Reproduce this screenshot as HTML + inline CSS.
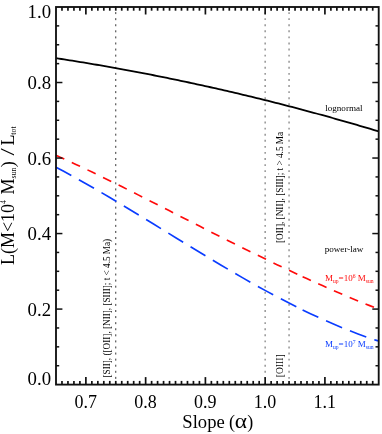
<!DOCTYPE html>
<html><head><meta charset="utf-8"><style>
html,body{margin:0;padding:0;background:#fff;}
svg{display:block;will-change:transform;font-family:"Liberation Serif",serif;}
</style></head><body>
<svg width="382" height="434" viewBox="0 0 382 434">
<rect width="382" height="434" fill="#fff"/>
<line x1="115.76" y1="6" x2="115.76" y2="384.6" stroke="#2a2a2a" stroke-width="0.95" stroke-dasharray="2,4.08"/>
<g stroke="#8e8e8e" stroke-width="1.4" stroke-dasharray="1.9,4.18" fill="none">
<line x1="265.16" y1="6.05" x2="265.16" y2="384.6"/>
<line x1="289.06" y1="6.05" x2="289.06" y2="384.6"/>
</g>
<path d="M56.00,58.16 L58.71,58.58 L61.42,58.99 L64.14,59.42 L66.85,59.84 L69.56,60.27 L72.27,60.70 L74.98,61.14 L77.69,61.58 L80.41,62.02 L83.12,62.47 L85.83,62.92 L88.54,63.37 L91.25,63.83 L93.96,64.29 L96.68,64.75 L99.39,65.22 L102.10,65.69 L104.81,66.16 L107.52,66.64 L110.24,67.11 L112.95,67.60 L115.66,68.08 L118.37,68.57 L121.08,69.07 L123.79,69.56 L126.51,70.06 L129.22,70.57 L131.93,71.08 L134.64,71.59 L137.35,72.10 L140.06,72.62 L142.78,73.14 L145.49,73.66 L148.20,74.19 L150.91,74.72 L153.62,75.25 L156.34,75.79 L159.05,76.33 L161.76,76.87 L164.47,77.42 L167.18,77.97 L169.89,78.53 L172.61,79.08 L175.32,79.65 L178.03,80.21 L180.74,80.78 L183.45,81.35 L186.16,81.92 L188.88,82.50 L191.59,83.08 L194.30,83.67 L197.01,84.26 L199.72,84.85 L202.44,85.44 L205.15,86.04 L207.86,86.64 L210.57,87.25 L213.28,87.86 L215.99,88.47 L218.71,89.08 L221.42,89.70 L224.13,90.33 L226.84,90.95 L229.55,91.58 L232.26,92.21 L234.98,92.85 L237.69,93.49 L240.40,94.13 L243.11,94.78 L245.82,95.42 L248.54,96.08 L251.25,96.73 L253.96,97.39 L256.67,98.06 L259.38,98.72 L262.09,99.39 L264.81,100.07 L267.52,100.74 L270.23,101.42 L272.94,102.11 L275.65,102.79 L278.36,103.48 L281.08,104.18 L283.79,104.87 L286.50,105.57 L289.21,106.28 L291.92,106.99 L294.64,107.70 L297.35,108.41 L300.06,109.13 L302.77,109.85 L305.48,110.57 L308.19,111.30 L310.91,112.03 L313.62,112.77 L316.33,113.50 L319.04,114.25 L321.75,114.99 L324.46,115.74 L327.18,116.49 L329.89,117.24 L332.60,118.00 L335.31,118.77 L338.02,119.53 L340.74,120.30 L343.45,121.07 L346.16,121.85 L348.87,122.63 L351.58,123.41 L354.29,124.19 L357.01,124.98 L359.72,125.78 L362.43,126.57 L365.14,127.37 L367.85,128.17 L370.56,128.98 L373.28,129.79 L375.99,130.60 L378.70,131.42" stroke="#000" stroke-width="1.8" fill="none"/>
<path d="M56.00,155.31 L60.15,157.18 L64.29,159.06 M71.77,162.50 L75.89,164.42 L80.01,166.35 M87.45,169.88 L91.55,171.84 L95.65,173.81 M103.06,177.41 L107.14,179.41 L111.23,181.42 M118.60,185.07 L122.68,187.10 L126.75,189.13 M134.10,192.82 L138.16,194.87 L142.22,196.92 M149.56,200.65 L153.62,202.71 L157.67,204.77 M165.01,208.51 L169.06,210.58 L173.11,212.65 M180.44,216.40 L184.49,218.47 L188.54,220.54 M195.87,224.28 L199.93,226.35 L203.98,228.41 M211.32,232.14 L215.38,234.19 L219.44,236.25 M226.79,239.95 L230.85,241.99 L234.92,244.03 M242.29,247.70 L246.37,249.72 L250.44,251.73 M257.83,255.36 L261.92,257.36 L266.01,259.35 M273.43,262.92 L277.53,264.89 L281.64,266.85 M289.08,270.36 L293.20,272.29 L297.32,274.21 M302.60,276.65 L306.74,278.55 L310.88,280.44 M318.21,283.75 L322.37,285.60 L326.53,287.44 M333.91,290.67 L338.08,292.47 L342.26,294.27 M349.68,297.41 L353.87,299.16 L358.08,300.90 M365.53,303.94 L369.75,305.64 L373.98,307.32" stroke="#ff0a0a" stroke-width="1.65" fill="none"/>
<path d="M56.00,167.18 L63.67,171.28 L71.31,175.45 M78.88,179.66 L86.45,183.94 L93.99,188.28 M101.48,192.64 L108.97,197.05 L116.45,201.50 M123.87,205.96 L131.32,210.46 L138.75,214.99 M146.14,219.50 L153.55,224.05 L160.97,228.60 M168.34,233.14 L175.75,237.70 L183.17,242.25 M190.56,246.77 L197.99,251.29 L205.43,255.80 M212.85,260.27 L220.32,264.72 L227.81,269.15 M235.28,273.53 L242.81,277.88 L250.37,282.19 M257.92,286.43 L265.54,290.63 L273.19,294.78 M280.84,298.84 L288.56,302.85 L296.32,306.78 M302.60,309.89 L310.44,313.67 L318.32,317.36 M326.06,320.86 L334.04,324.33 L342.07,327.69 M349.96,330.85 L358.08,333.95 L366.26,336.91 M374.31,339.66 L376.50,340.38 L378.70,341.08" stroke="#0a3cff" stroke-width="1.65" fill="none"/>
<rect x="56.0" y="7.0" width="322.7" height="377.6" fill="none" stroke="#111" stroke-width="1.85"/>
<g stroke="#111" stroke-width="1.5">
<line stroke-width="1.7" x1="61.98" y1="384.6" x2="61.98" y2="380.90000000000003"/><line stroke-width="1.7" x1="61.98" y1="7.0" x2="61.98" y2="10.7"/><line stroke-width="1.7" x1="67.95" y1="384.6" x2="67.95" y2="380.90000000000003"/><line stroke-width="1.7" x1="67.95" y1="7.0" x2="67.95" y2="10.7"/><line stroke-width="1.7" x1="73.93" y1="384.6" x2="73.93" y2="380.90000000000003"/><line stroke-width="1.7" x1="73.93" y1="7.0" x2="73.93" y2="10.7"/><line stroke-width="1.7" x1="79.90" y1="384.6" x2="79.90" y2="380.90000000000003"/><line stroke-width="1.7" x1="79.90" y1="7.0" x2="79.90" y2="10.7"/><line stroke-width="1.7" x1="85.88" y1="384.6" x2="85.88" y2="377.1"/><line stroke-width="1.7" x1="85.88" y1="7.0" x2="85.88" y2="14.5"/><line stroke-width="1.7" x1="91.86" y1="384.6" x2="91.86" y2="380.90000000000003"/><line stroke-width="1.7" x1="91.86" y1="7.0" x2="91.86" y2="10.7"/><line stroke-width="1.7" x1="97.83" y1="384.6" x2="97.83" y2="380.90000000000003"/><line stroke-width="1.7" x1="97.83" y1="7.0" x2="97.83" y2="10.7"/><line stroke-width="1.7" x1="103.81" y1="384.6" x2="103.81" y2="380.90000000000003"/><line stroke-width="1.7" x1="103.81" y1="7.0" x2="103.81" y2="10.7"/><line stroke-width="1.7" x1="109.78" y1="384.6" x2="109.78" y2="380.90000000000003"/><line stroke-width="1.7" x1="109.78" y1="7.0" x2="109.78" y2="10.7"/><line stroke-width="1.7" x1="115.76" y1="384.6" x2="115.76" y2="380.90000000000003"/><line stroke-width="1.7" x1="115.76" y1="7.0" x2="115.76" y2="10.7"/><line stroke-width="1.7" x1="121.74" y1="384.6" x2="121.74" y2="380.90000000000003"/><line stroke-width="1.7" x1="121.74" y1="7.0" x2="121.74" y2="10.7"/><line stroke-width="1.7" x1="127.71" y1="384.6" x2="127.71" y2="380.90000000000003"/><line stroke-width="1.7" x1="127.71" y1="7.0" x2="127.71" y2="10.7"/><line stroke-width="1.7" x1="133.69" y1="384.6" x2="133.69" y2="380.90000000000003"/><line stroke-width="1.7" x1="133.69" y1="7.0" x2="133.69" y2="10.7"/><line stroke-width="1.7" x1="139.66" y1="384.6" x2="139.66" y2="380.90000000000003"/><line stroke-width="1.7" x1="139.66" y1="7.0" x2="139.66" y2="10.7"/><line stroke-width="1.7" x1="145.64" y1="384.6" x2="145.64" y2="377.1"/><line stroke-width="1.7" x1="145.64" y1="7.0" x2="145.64" y2="14.5"/><line stroke-width="1.7" x1="151.61" y1="384.6" x2="151.61" y2="380.90000000000003"/><line stroke-width="1.7" x1="151.61" y1="7.0" x2="151.61" y2="10.7"/><line stroke-width="1.7" x1="157.59" y1="384.6" x2="157.59" y2="380.90000000000003"/><line stroke-width="1.7" x1="157.59" y1="7.0" x2="157.59" y2="10.7"/><line stroke-width="1.7" x1="163.57" y1="384.6" x2="163.57" y2="380.90000000000003"/><line stroke-width="1.7" x1="163.57" y1="7.0" x2="163.57" y2="10.7"/><line stroke-width="1.7" x1="169.54" y1="384.6" x2="169.54" y2="380.90000000000003"/><line stroke-width="1.7" x1="169.54" y1="7.0" x2="169.54" y2="10.7"/><line stroke-width="1.7" x1="175.52" y1="384.6" x2="175.52" y2="380.90000000000003"/><line stroke-width="1.7" x1="175.52" y1="7.0" x2="175.52" y2="10.7"/><line stroke-width="1.7" x1="181.49" y1="384.6" x2="181.49" y2="380.90000000000003"/><line stroke-width="1.7" x1="181.49" y1="7.0" x2="181.49" y2="10.7"/><line stroke-width="1.7" x1="187.47" y1="384.6" x2="187.47" y2="380.90000000000003"/><line stroke-width="1.7" x1="187.47" y1="7.0" x2="187.47" y2="10.7"/><line stroke-width="1.7" x1="193.45" y1="384.6" x2="193.45" y2="380.90000000000003"/><line stroke-width="1.7" x1="193.45" y1="7.0" x2="193.45" y2="10.7"/><line stroke-width="1.7" x1="199.42" y1="384.6" x2="199.42" y2="380.90000000000003"/><line stroke-width="1.7" x1="199.42" y1="7.0" x2="199.42" y2="10.7"/><line stroke-width="1.7" x1="205.40" y1="384.6" x2="205.40" y2="377.1"/><line stroke-width="1.7" x1="205.40" y1="7.0" x2="205.40" y2="14.5"/><line stroke-width="1.7" x1="211.37" y1="384.6" x2="211.37" y2="380.90000000000003"/><line stroke-width="1.7" x1="211.37" y1="7.0" x2="211.37" y2="10.7"/><line stroke-width="1.7" x1="217.35" y1="384.6" x2="217.35" y2="380.90000000000003"/><line stroke-width="1.7" x1="217.35" y1="7.0" x2="217.35" y2="10.7"/><line stroke-width="1.7" x1="223.33" y1="384.6" x2="223.33" y2="380.90000000000003"/><line stroke-width="1.7" x1="223.33" y1="7.0" x2="223.33" y2="10.7"/><line stroke-width="1.7" x1="229.30" y1="384.6" x2="229.30" y2="380.90000000000003"/><line stroke-width="1.7" x1="229.30" y1="7.0" x2="229.30" y2="10.7"/><line stroke-width="1.7" x1="235.28" y1="384.6" x2="235.28" y2="380.90000000000003"/><line stroke-width="1.7" x1="235.28" y1="7.0" x2="235.28" y2="10.7"/><line stroke-width="1.7" x1="241.25" y1="384.6" x2="241.25" y2="380.90000000000003"/><line stroke-width="1.7" x1="241.25" y1="7.0" x2="241.25" y2="10.7"/><line stroke-width="1.7" x1="247.23" y1="384.6" x2="247.23" y2="380.90000000000003"/><line stroke-width="1.7" x1="247.23" y1="7.0" x2="247.23" y2="10.7"/><line stroke-width="1.7" x1="253.21" y1="384.6" x2="253.21" y2="380.90000000000003"/><line stroke-width="1.7" x1="253.21" y1="7.0" x2="253.21" y2="10.7"/><line stroke-width="1.7" x1="259.18" y1="384.6" x2="259.18" y2="380.90000000000003"/><line stroke-width="1.7" x1="259.18" y1="7.0" x2="259.18" y2="10.7"/><line stroke-width="1.7" x1="265.16" y1="384.6" x2="265.16" y2="377.1"/><line stroke-width="1.7" x1="265.16" y1="7.0" x2="265.16" y2="14.5"/><line stroke-width="1.7" x1="271.13" y1="384.6" x2="271.13" y2="380.90000000000003"/><line stroke-width="1.7" x1="271.13" y1="7.0" x2="271.13" y2="10.7"/><line stroke-width="1.7" x1="277.11" y1="384.6" x2="277.11" y2="380.90000000000003"/><line stroke-width="1.7" x1="277.11" y1="7.0" x2="277.11" y2="10.7"/><line stroke-width="1.7" x1="283.09" y1="384.6" x2="283.09" y2="380.90000000000003"/><line stroke-width="1.7" x1="283.09" y1="7.0" x2="283.09" y2="10.7"/><line stroke-width="1.7" x1="289.06" y1="384.6" x2="289.06" y2="380.90000000000003"/><line stroke-width="1.7" x1="289.06" y1="7.0" x2="289.06" y2="10.7"/><line stroke-width="1.7" x1="295.04" y1="384.6" x2="295.04" y2="380.90000000000003"/><line stroke-width="1.7" x1="295.04" y1="7.0" x2="295.04" y2="10.7"/><line stroke-width="1.7" x1="301.01" y1="384.6" x2="301.01" y2="380.90000000000003"/><line stroke-width="1.7" x1="301.01" y1="7.0" x2="301.01" y2="10.7"/><line stroke-width="1.7" x1="306.99" y1="384.6" x2="306.99" y2="380.90000000000003"/><line stroke-width="1.7" x1="306.99" y1="7.0" x2="306.99" y2="10.7"/><line stroke-width="1.7" x1="312.96" y1="384.6" x2="312.96" y2="380.90000000000003"/><line stroke-width="1.7" x1="312.96" y1="7.0" x2="312.96" y2="10.7"/><line stroke-width="1.7" x1="318.94" y1="384.6" x2="318.94" y2="380.90000000000003"/><line stroke-width="1.7" x1="318.94" y1="7.0" x2="318.94" y2="10.7"/><line stroke-width="1.7" x1="324.92" y1="384.6" x2="324.92" y2="377.1"/><line stroke-width="1.7" x1="324.92" y1="7.0" x2="324.92" y2="14.5"/><line stroke-width="1.7" x1="330.89" y1="384.6" x2="330.89" y2="380.90000000000003"/><line stroke-width="1.7" x1="330.89" y1="7.0" x2="330.89" y2="10.7"/><line stroke-width="1.7" x1="336.87" y1="384.6" x2="336.87" y2="380.90000000000003"/><line stroke-width="1.7" x1="336.87" y1="7.0" x2="336.87" y2="10.7"/><line stroke-width="1.7" x1="342.84" y1="384.6" x2="342.84" y2="380.90000000000003"/><line stroke-width="1.7" x1="342.84" y1="7.0" x2="342.84" y2="10.7"/><line stroke-width="1.7" x1="348.82" y1="384.6" x2="348.82" y2="380.90000000000003"/><line stroke-width="1.7" x1="348.82" y1="7.0" x2="348.82" y2="10.7"/><line stroke-width="1.7" x1="354.80" y1="384.6" x2="354.80" y2="380.90000000000003"/><line stroke-width="1.7" x1="354.80" y1="7.0" x2="354.80" y2="10.7"/><line stroke-width="1.7" x1="360.77" y1="384.6" x2="360.77" y2="380.90000000000003"/><line stroke-width="1.7" x1="360.77" y1="7.0" x2="360.77" y2="10.7"/><line stroke-width="1.7" x1="366.75" y1="384.6" x2="366.75" y2="380.90000000000003"/><line stroke-width="1.7" x1="366.75" y1="7.0" x2="366.75" y2="10.7"/><line stroke-width="1.7" x1="372.72" y1="384.6" x2="372.72" y2="380.90000000000003"/><line stroke-width="1.7" x1="372.72" y1="7.0" x2="372.72" y2="10.7"/><line x1="56.0" y1="365.72" x2="59.2" y2="365.72"/><line x1="378.7" y1="365.72" x2="375.5" y2="365.72"/><line x1="56.0" y1="346.84" x2="59.2" y2="346.84"/><line x1="378.7" y1="346.84" x2="375.5" y2="346.84"/><line x1="56.0" y1="327.96" x2="59.2" y2="327.96"/><line x1="378.7" y1="327.96" x2="375.5" y2="327.96"/><line x1="56.0" y1="309.08" x2="62.4" y2="309.08"/><line x1="378.7" y1="309.08" x2="372.3" y2="309.08"/><line x1="56.0" y1="290.20" x2="59.2" y2="290.20"/><line x1="378.7" y1="290.20" x2="375.5" y2="290.20"/><line x1="56.0" y1="271.32" x2="59.2" y2="271.32"/><line x1="378.7" y1="271.32" x2="375.5" y2="271.32"/><line x1="56.0" y1="252.44" x2="59.2" y2="252.44"/><line x1="378.7" y1="252.44" x2="375.5" y2="252.44"/><line x1="56.0" y1="233.56" x2="62.4" y2="233.56"/><line x1="378.7" y1="233.56" x2="372.3" y2="233.56"/><line x1="56.0" y1="214.68" x2="59.2" y2="214.68"/><line x1="378.7" y1="214.68" x2="375.5" y2="214.68"/><line x1="56.0" y1="195.80" x2="59.2" y2="195.80"/><line x1="378.7" y1="195.80" x2="375.5" y2="195.80"/><line x1="56.0" y1="176.92" x2="59.2" y2="176.92"/><line x1="378.7" y1="176.92" x2="375.5" y2="176.92"/><line x1="56.0" y1="158.04" x2="62.4" y2="158.04"/><line x1="378.7" y1="158.04" x2="372.3" y2="158.04"/><line x1="56.0" y1="139.16" x2="59.2" y2="139.16"/><line x1="378.7" y1="139.16" x2="375.5" y2="139.16"/><line x1="56.0" y1="120.28" x2="59.2" y2="120.28"/><line x1="378.7" y1="120.28" x2="375.5" y2="120.28"/><line x1="56.0" y1="101.40" x2="59.2" y2="101.40"/><line x1="378.7" y1="101.40" x2="375.5" y2="101.40"/><line x1="56.0" y1="82.52" x2="62.4" y2="82.52"/><line x1="378.7" y1="82.52" x2="372.3" y2="82.52"/><line x1="56.0" y1="63.64" x2="59.2" y2="63.64"/><line x1="378.7" y1="63.64" x2="375.5" y2="63.64"/><line x1="56.0" y1="44.76" x2="59.2" y2="44.76"/><line x1="378.7" y1="44.76" x2="375.5" y2="44.76"/><line x1="56.0" y1="25.88" x2="59.2" y2="25.88"/><line x1="378.7" y1="25.88" x2="375.5" y2="25.88"/>
</g>
<g fill="#000">
<text transform="translate(85.68,408.20) scale(1,1.05)" text-anchor="middle" font-size="18" >0.7</text><text transform="translate(145.44,408.20) scale(1,1.05)" text-anchor="middle" font-size="18" >0.8</text><text transform="translate(205.20,408.20) scale(1,1.05)" text-anchor="middle" font-size="18" >0.9</text><text transform="translate(264.96,408.20) scale(1,1.05)" text-anchor="middle" font-size="18" >1.0</text><text transform="translate(324.72,408.20) scale(1,1.05)" text-anchor="middle" font-size="18" >1.1</text>
<text transform="translate(51.10,315.58) scale(1.045,1.05)" text-anchor="end" font-size="18" >0.2</text><text transform="translate(51.10,240.06) scale(1.045,1.05)" text-anchor="end" font-size="18" >0.4</text><text transform="translate(51.10,164.54) scale(1.045,1.05)" text-anchor="end" font-size="18" >0.6</text><text transform="translate(51.10,89.02) scale(1.045,1.05)" text-anchor="end" font-size="18" >0.8</text><text transform="translate(51.10,18.00) scale(1.045,1.05)" text-anchor="end" font-size="18" >1.0</text><text transform="translate(51.10,385.30) scale(1.045,1.05)" text-anchor="end" font-size="18" >0.0</text>
<text transform="translate(182.3,428.3) scale(1.035,1.05)" font-size="18">Slope</text>
<text transform="translate(228.9,428.3) scale(1,1.05)" font-size="18">(</text>
<text transform="translate(240.9,428.3) scale(1.3,1.12)" font-size="18" text-anchor="middle">α</text>
<text transform="translate(247.2,428.3) scale(1,1.05)" font-size="18">)</text>
<g transform="translate(13.7,265) rotate(-90) scale(1,1.05)" font-size="18">
<text>L(M&lt;10<tspan font-size="7.8" dy="-7">4</tspan><tspan dy="7" dx="1.1"> M</tspan><tspan font-size="7.8" dy="2.5">sun</tspan><tspan dy="-2.5" dx="0.3">)</tspan></text>
<text transform="translate(113.1,0) scale(1.45,1)" text-anchor="middle">/</text>
<text x="119.4">L<tspan font-size="7.8" dy="2.5">tot</tspan></text>
</g>
<text x="325.2" y="111" font-size="9.1">lognormal</text>
<text x="324.7" y="252.3" font-size="9.1">power-law</text>
<text transform="translate(109.5,377.5) rotate(-90) scale(1,1.06)" font-size="9.2">[SII], ([OII], [NII], [SIII]; t &lt; 4.5 Ma)</text>
<text transform="translate(283.2,243) rotate(-90) scale(1,1.06)" font-size="9.25">[OII], [NII], [SIII]; t &gt; 4.5 Ma</text>
<text transform="translate(283.2,377.3) rotate(-90) scale(1,1.06)" font-size="9.6">[OIII]</text>
</g>
<text x="325" y="281.4" font-size="9" fill="#ff0a0a">M<tspan font-size="5.6" dy="2">up</tspan><tspan dy="-2">=10</tspan><tspan font-size="5.6" dy="-3.6">6</tspan><tspan dy="3.6"> M</tspan><tspan font-size="5.6" dy="2">sun</tspan></text>
<text x="325" y="347.4" font-size="9" fill="#0a3cff">M<tspan font-size="5.6" dy="2">up</tspan><tspan dy="-2">=10</tspan><tspan font-size="5.6" dy="-3.6">7</tspan><tspan dy="3.6"> M</tspan><tspan font-size="5.6" dy="2">sun</tspan></text>
</svg>
</body></html>
